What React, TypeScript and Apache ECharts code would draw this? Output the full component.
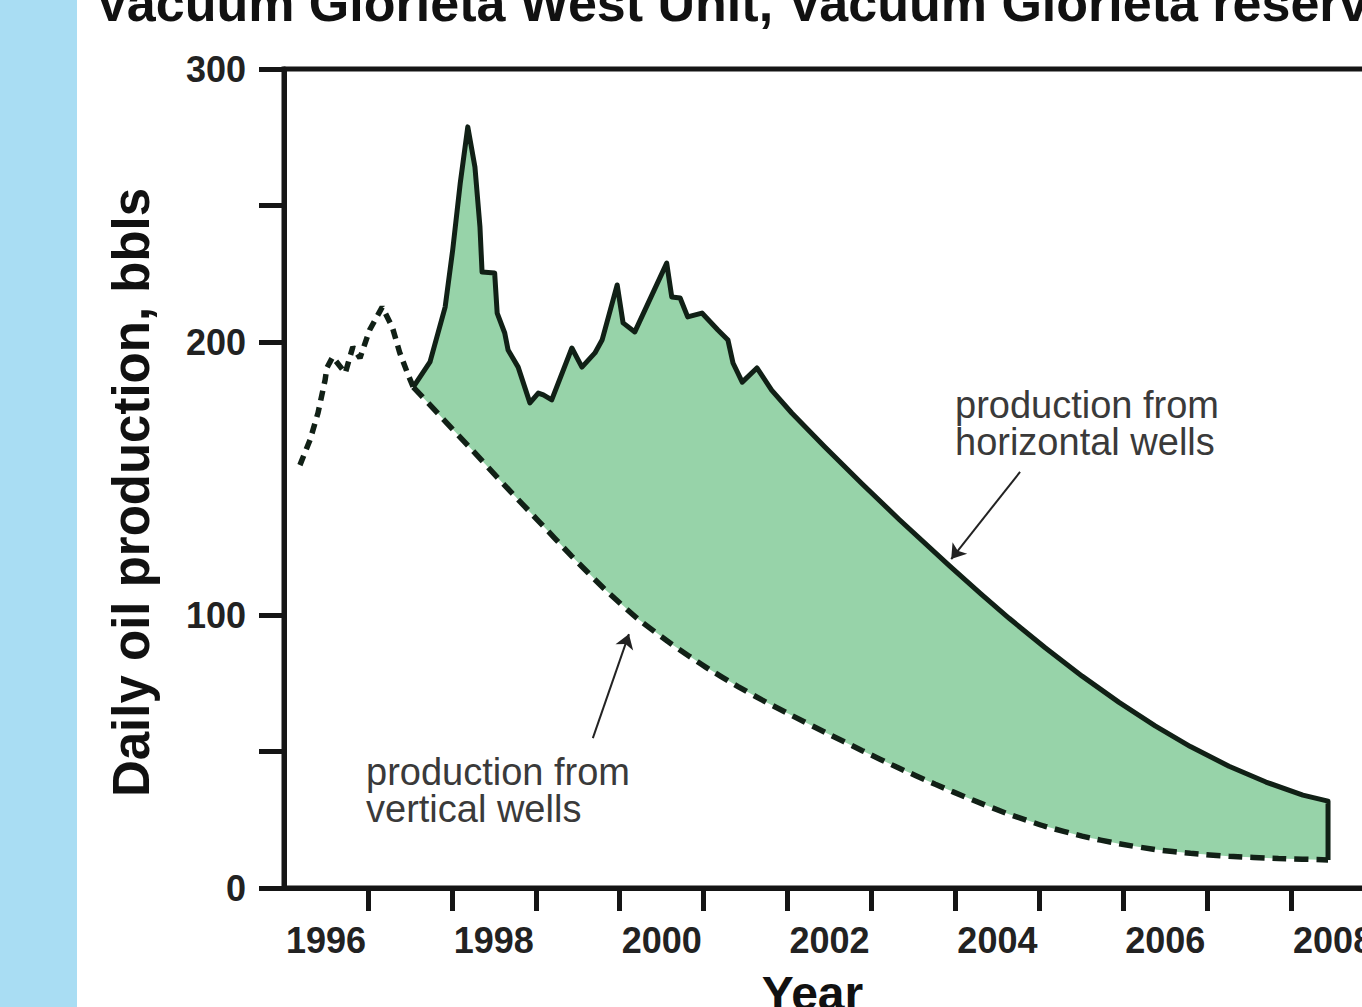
import { useEffect, useRef } from "react";
import * as echarts from "echarts";

// ---- data ----
const titleText = "Vacuum Glorieta West Unit, Vacuum Glorieta reservoir";
const xTickLabels = ["1996", "1998", "2000", "2002", "2004", "2006", "2008"];
const yTickLabels = ["0", "100", "200", "300"];
const yTickValues = [0, 50, 100, 200, 250, 300];
const xTickValues = [1997, 1998, 1999, 2000, 2001, 2002, 2003, 2004, 2005, 2006, 2007, 2008, 2009];

// vertical wells before horizontal drilling (dashed, jagged part)
const preYears = [1996.19, 1996.31, 1996.405, 1996.49, 1996.51, 1996.58, 1996.73, 1996.82, 1996.905, 1997.02, 1997.17, 1997.29, 1997.38, 1997.48, 1997.54];
const preValues = [154.9, 164.1, 174.0, 186.1, 190.5, 194.5, 188.6, 198.2, 194.1, 204.4, 212.8, 205.5, 196.0, 187.9, 183.5];

// vertical wells decline (dashed)
const verticalYears = [1997.54, 1997.88, 1998.24, 1998.63, 1999.03, 1999.43, 1999.82, 2000.22, 2000.62, 2001.02, 2001.41, 2001.7, 2002.0, 2002.45, 2002.89, 2003.3, 2003.76, 2004.2, 2004.64, 2005.07, 2005.51, 2005.95, 2006.38, 2006.8, 2007.26, 2007.85, 2008.44];
const verticalValues = [183.5, 172.3, 160.5, 147.5, 134.5, 121.5, 109.5, 98.5, 89.3, 81.0, 73.8, 68.8, 64.0, 57.0, 50.3, 44.3, 38.0, 32.3, 27.0, 22.6, 19.0, 16.2, 14.1, 12.7, 11.6, 10.8, 10.3];

// total production incl. horizontal wells (solid)
const totalYears = [1997.54, 1997.74, 1997.92, 1998.01, 1998.1, 1998.19, 1998.275, 1998.335, 1998.36, 1998.51, 1998.54, 1998.63, 1998.67, 1998.79, 1998.93, 1999.03, 1999.09, 1999.19, 1999.43, 1999.55, 1999.705, 1999.79, 1999.97, 2000.04, 2000.18, 2000.56, 2000.62, 2000.72, 2000.81, 2000.98, 2001.17, 2001.29, 2001.35, 2001.46, 2001.635, 2001.81, 2002.05, 2002.445, 2002.89, 2003.33, 2003.93, 2004.3, 2004.64, 2005.07, 2005.51, 2005.95, 2006.38, 2006.8, 2007.26, 2007.7, 2008.14, 2008.44, 2008.44];
const totalValues = [183.5, 192.7, 212.8, 233.7, 258.2, 278.8, 264.1, 242.1, 225.6, 225.3, 210.6, 203.3, 197.1, 190.8, 177.7, 181.3, 180.6, 178.8, 197.8, 190.8, 196.0, 200.7, 220.9, 207.0, 203.7, 228.9, 216.5, 216.1, 209.2, 210.6, 204.4, 200.7, 192.3, 185.3, 190.5, 182.4, 174.0, 161.5, 148.0, 135.0, 118.0, 107.8, 98.8, 88.0, 77.6, 68.0, 59.4, 51.8, 44.6, 38.8, 34.0, 31.8, 10.3];

// annotation arrows [year, value]
const horizArrowFrom = [2004.77, 152.4];
const horizArrowTo = [2003.95, 120.5];
const vertArrowFrom = [1999.68, 54.9];
const vertArrowTo = [2000.11, 93.0];

const horizLabel = "production from\nhorizontal wells";
const vertLabel = "production from\nvertical wells";

const FONT = '"Liberation Sans", Arial, Helvetica, sans-serif';
const AX = "#151515";
const LINE = "#112016";
const GREEN = "#97d3a9";

const pairs = (xs: number[], ys: number[]) => xs.map((x, i) => [x, ys[i]]);

export default function App() {
  const ref = useRef<HTMLDivElement>(null);
  useEffect(() => {
    if (!ref.current) return;
    const chart = echarts.init(ref.current, null, { renderer: "svg" });
    const option: any = {
      animation: false,
      backgroundColor: "#ffffff",
      textStyle: { fontFamily: FONT },
      grid: {
        left: 284,
        top: 69,
        width: 1133,
        bottom: 119,
        outerBoundsMode: "none",
        containLabel: false,
        show: true,
        borderColor: AX,
        borderWidth: 5,
        backgroundColor: "transparent",
      },
      xAxis: {
        type: "value",
        min: 1996,
        max: 2009.5,
        interval: 1,
        axisLine: { show: true, lineStyle: { color: AX, width: 5 } },
        axisTick: {
          show: true,
          length: 23,
          customValues: xTickValues,
          lineStyle: { color: AX, width: 5 },
        },
        axisLabel: {
          formatter: (v: number) => {
            const s = String(Math.round(v));
            return xTickLabels.includes(s) ? s : "";
          },
          fontSize: 36,
          fontWeight: "bold",
          fontFamily: FONT,
          color: "#222",
          margin: 34,
          padding: [0, 0, 0, 84],
        },
        splitLine: { show: false },
        name: "Year",
        nameLocation: "middle",
        nameGap: 81,
        nameTextStyle: { fontSize: 48, fontWeight: "bold", color: "#111", fontFamily: FONT, padding: [0, 76, 0, 0] },
      },
      yAxis: {
        type: "value",
        min: 0,
        max: 300,
        interval: 50,
        axisLine: { show: true, lineStyle: { color: AX, width: 5 } },
        axisTick: { show: true, length: 25, customValues: yTickValues, lineStyle: { color: AX, width: 5 } },
        axisLabel: {
          formatter: (v: number) => (yTickLabels.includes(String(v)) ? String(v) : ""),
          fontSize: 36,
          fontWeight: "bold",
          fontFamily: FONT,
          color: "#222",
          margin: 38,
        },
        splitLine: { show: false },
        name: "Daily oil production, bbls",
        nameLocation: "middle",
        nameGap: 127,
        nameTextStyle: { fontSize: 51, fontWeight: "bold", color: "#111", fontFamily: FONT, padding: [0, 28, 0, 0] },
      },
      graphic: [
        { type: "rect", left: 0, top: 0, z: 100, shape: { width: 77, height: 1007 }, style: { fill: "#a9ddf3" } },
        {
          type: "text",
          x: 95,
          y: 3,
          z: 100,
          style: { text: titleText, font: `bold 52px ${FONT}`, fill: "#111", verticalAlign: "middle", textVerticalAlign: "middle" },
        },
        {
          type: "text",
          left: 955,
          top: 386,
          z: 100,
          style: { text: horizLabel, font: `38px ${FONT}`, fill: "#3a3a3a", lineHeight: 37 },
        },
        {
          type: "text",
          left: 366,
          top: 753,
          z: 100,
          style: { text: vertLabel, font: `38px ${FONT}`, fill: "#3a3a3a", lineHeight: 37 },
        },
      ],
      series: [
        {
          type: "custom",
          coordinateSystem: "cartesian2d",
          silent: true,
          z: 1,
          data: [[totalYears[0], totalValues[0]]],
          renderItem: (_params: any, api: any) => {
            const pts: number[][] = [];
            for (let i = 0; i < totalYears.length; i++) pts.push(api.coord([totalYears[i], totalValues[i]]));
            for (let i = verticalYears.length - 1; i >= 0; i--) pts.push(api.coord([verticalYears[i], verticalValues[i]]));
            return { type: "polygon", shape: { points: pts }, style: { fill: GREEN } };
          },
        },
        {
          type: "line",
          z: 3,
          showSymbol: false,
          silent: true,
          data: pairs(preYears, preValues),
          lineStyle: { color: LINE, width: 5.5, type: [10, 7] },
        },
        {
          type: "line",
          z: 3,
          showSymbol: false,
          silent: true,
          smooth: 0.2,
          data: pairs(verticalYears, verticalValues),
          lineStyle: { color: LINE, width: 5.5, type: [14, 8] },
        },
        {
          type: "line",
          z: 4,
          showSymbol: false,
          silent: true,
          data: pairs(totalYears, totalValues),
          lineStyle: { color: LINE, width: 5, join: "round" },
          markLine: {
            silent: true,
            symbol: ["none", "arrow"],
            symbolSize: 14,
            label: { show: false },
            lineStyle: { color: "#222", width: 2, type: "solid" },
            data: [
              [{ coord: horizArrowFrom }, { coord: horizArrowTo }],
              [{ coord: vertArrowFrom }, { coord: vertArrowTo }],
            ],
          },
        },
      ],
    };
    chart.setOption(option);
    return () => chart.dispose();
  }, []);
  return (
    <div
      ref={ref}
      style={{ position: "fixed", left: 0, top: 0, width: 1362, height: 1007, background: "#fff" }}
    />
  );
}
